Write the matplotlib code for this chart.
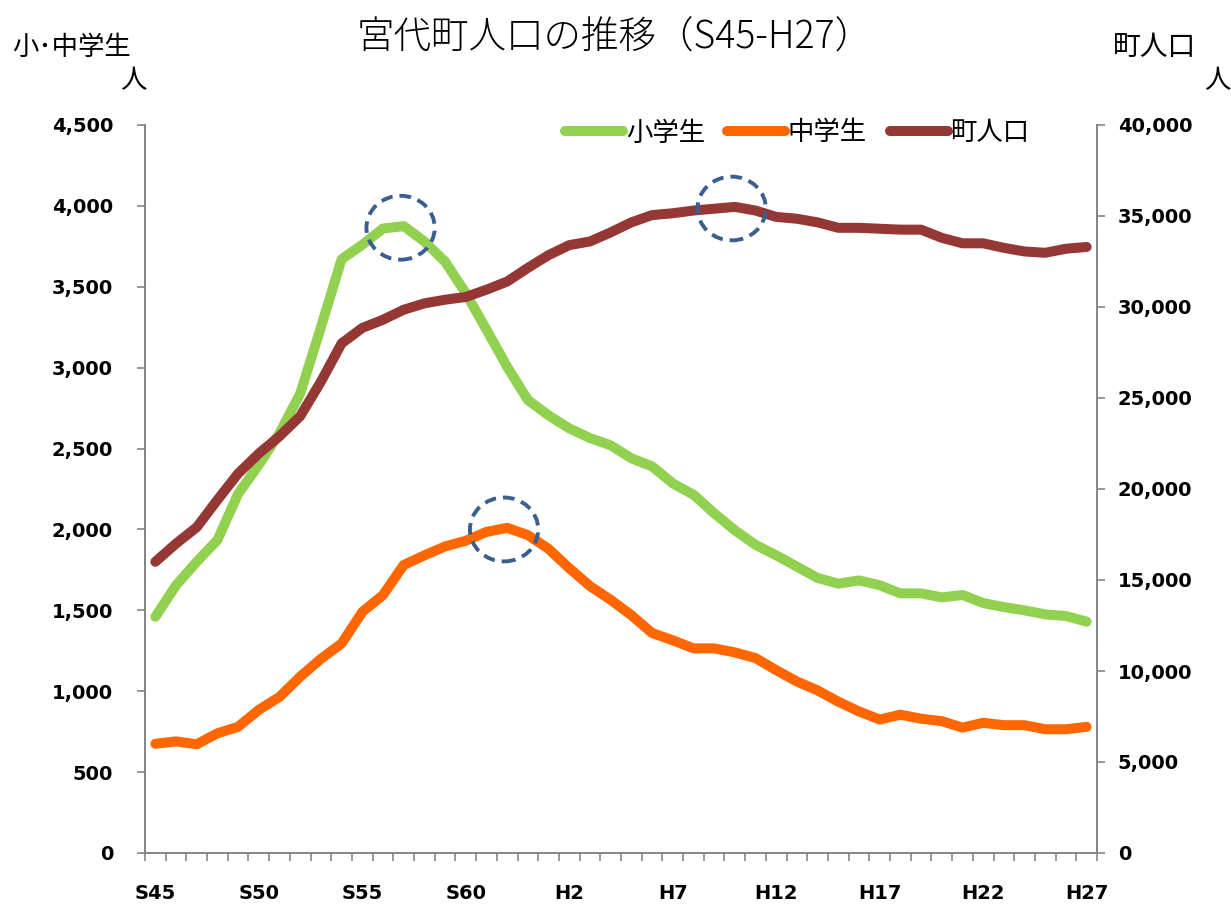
"""Miyashiro town population and pupil counts, S45-H27."""

import numpy as np
import matplotlib
matplotlib.use("Agg")
import matplotlib.pyplot as plt
from matplotlib.patches import Ellipse

plt.rcParams["font.family"] = ["Noto Sans CJK JP", "DejaVu Sans"]

# fiscal years S45 (1970) .. H27 (2015)
years = ["S45", "S46", "S47", "S48", "S49", "S50", "S51", "S52", "S53", "S54",
         "S55", "S56", "S57", "S58", "S59", "S60", "S61", "S62", "S63", "H1",
         "H2", "H3", "H4", "H5", "H6", "H7", "H8", "H9", "H10", "H11",
         "H12", "H13", "H14", "H15", "H16", "H17", "H18", "H19", "H20", "H21",
         "H22", "H23", "H24", "H25", "H26", "H27"]

elementary = [1460, 1655, 1800, 1935, 2220, 2400, 2595, 2840, 3250, 3670,
              3760, 3860, 3875, 3780, 3655, 3460, 3235, 3005, 2800, 2705,
              2625, 2565, 2520, 2440, 2390, 2285, 2215, 2100, 1995, 1905,
              1840, 1770, 1700, 1665, 1685, 1655, 1605, 1605, 1580, 1595,
              1545, 1520, 1500, 1475, 1465, 1430]

junior = [675, 690, 672, 740, 780, 885, 965, 1090, 1200, 1295,
          1490, 1595, 1780, 1840, 1895, 1930, 1985, 2010, 1965, 1880,
          1760, 1650, 1565, 1470, 1360, 1315, 1265, 1265, 1240, 1205,
          1130, 1060, 1005, 935, 875, 825, 855, 830, 815, 775,
          805, 790, 790, 765, 765, 780]

population = [16000, 17000, 17900, 19400, 20850, 21950, 22900, 24000, 25900, 28000,
              28850, 29300, 29850, 30200, 30400, 30550, 30950, 31400, 32150, 32850,
              33400, 33600, 34100, 34650, 35050, 35150, 35300, 35400, 35500, 35300,
              34950, 34850, 34650, 34350, 34350, 34300, 34250, 34250, 33800, 33500,
              33500, 33250, 33050, 32980, 33200, 33300]

left_ticks = list(range(0, 4501, 500))
right_ticks = list(range(0, 40001, 5000))

GREEN = "#92D050"
ORANGE = "#FF6600"
BROWN = "#953735"
AXIS = "#868686"
RING = "#3A5F8F"
NUM_FONT = dict(family="DejaVu Sans", fontweight="bold", fontsize=14)

x = np.arange(len(years))

fig = plt.figure(figsize=(12.31, 9.08), dpi=100)
ax = fig.add_axes([145 / 1231, 1 - 853 / 908, (1097 - 145) / 1231, (853 - 125) / 908])
ax2 = ax.twinx()

line_kw = dict(lw=7.2, solid_capstyle="round", solid_joinstyle="round")
l1, = ax.plot(x, elementary, color=GREEN, label="小学生", **line_kw)
l2, = ax.plot(x, junior, color=ORANGE, label="中学生", **line_kw)
l3, = ax2.plot(x, population, color=BROWN, label="町人口", **line_kw)

ax.set_xlim(-0.5, len(years) - 0.5)
ax.set_ylim(0, 4500)
ax2.set_ylim(0, 40000)

# dashed rings around each peak
ring_kw = dict(fill=False, ec=RING, lw=2.8, ls=(0, (3.0, 1.8)), zorder=5)
for axis, series, h in ((ax, elementary, 395), (ax, junior, 395), (ax2, population, 3500)):
    i = int(np.argmax(series))
    axis.add_patch(Ellipse((i - 0.15, series[i] - 10 * h / 395), 3.3, h, **ring_kw))

# category axis: ticks between years, labels every 5 years
ax.set_xticks(np.arange(-0.5, len(years), 1))
ax.set_xticklabels([])
ax.set_xticks(x[::5], minor=True)
ax.set_xticklabels(years[::5], minor=True, **NUM_FONT)
ax.tick_params(axis="x", which="major", direction="out", length=6, width=1.2,
               color=AXIS)
ax.tick_params(axis="x", which="minor", length=0, pad=22)

ax.set_yticks(left_ticks)
ax.set_yticklabels(["{:,}".format(v) for v in left_ticks], **NUM_FONT)
ax.tick_params(axis="y", direction="out", length=6, width=1.2, color=AXIS, pad=17)
ax2.set_yticks(right_ticks)
ax2.set_yticklabels(["{:,}".format(v) for v in right_ticks], **NUM_FONT)
ax2.tick_params(axis="y", direction="out", length=6, width=1.2, color=AXIS, pad=9)

for a in (ax, ax2):
    a.spines["top"].set_visible(False)
    for s in ("left", "right", "bottom"):
        a.spines[s].set_color(AXIS)
        a.spines[s].set_linewidth(1.3)

ax2.legend(handles=[l1, l2, l3], loc="center left",
           bbox_to_anchor=(565 / 1231, 1 - 133 / 908),
           bbox_transform=fig.transFigure, ncol=3, frameon=False,
           fontsize=19, handlelength=2.2, handletextpad=0.1,
           columnspacing=0.85, borderpad=0, borderaxespad=0)

fig.text(615 / 1231, 1 - 38 / 908, "宮代町人口の推移（S45-H27）",
         ha="center", va="center", fontsize=27, fontweight="light")
fig.text(12 / 1231, 1 - 47 / 908, "小･中学生", ha="left", va="center", fontsize=19)
fig.text(133 / 1231, 1 - 81 / 908, "人", ha="center", va="center", fontsize=19)
fig.text(1113 / 1231, 1 - 47 / 908, "町人口", ha="left", va="center", fontsize=20)
fig.text(1217 / 1231, 1 - 81 / 908, "人", ha="center", va="center", fontsize=19)

fig.savefig("out.png", dpi=100)
